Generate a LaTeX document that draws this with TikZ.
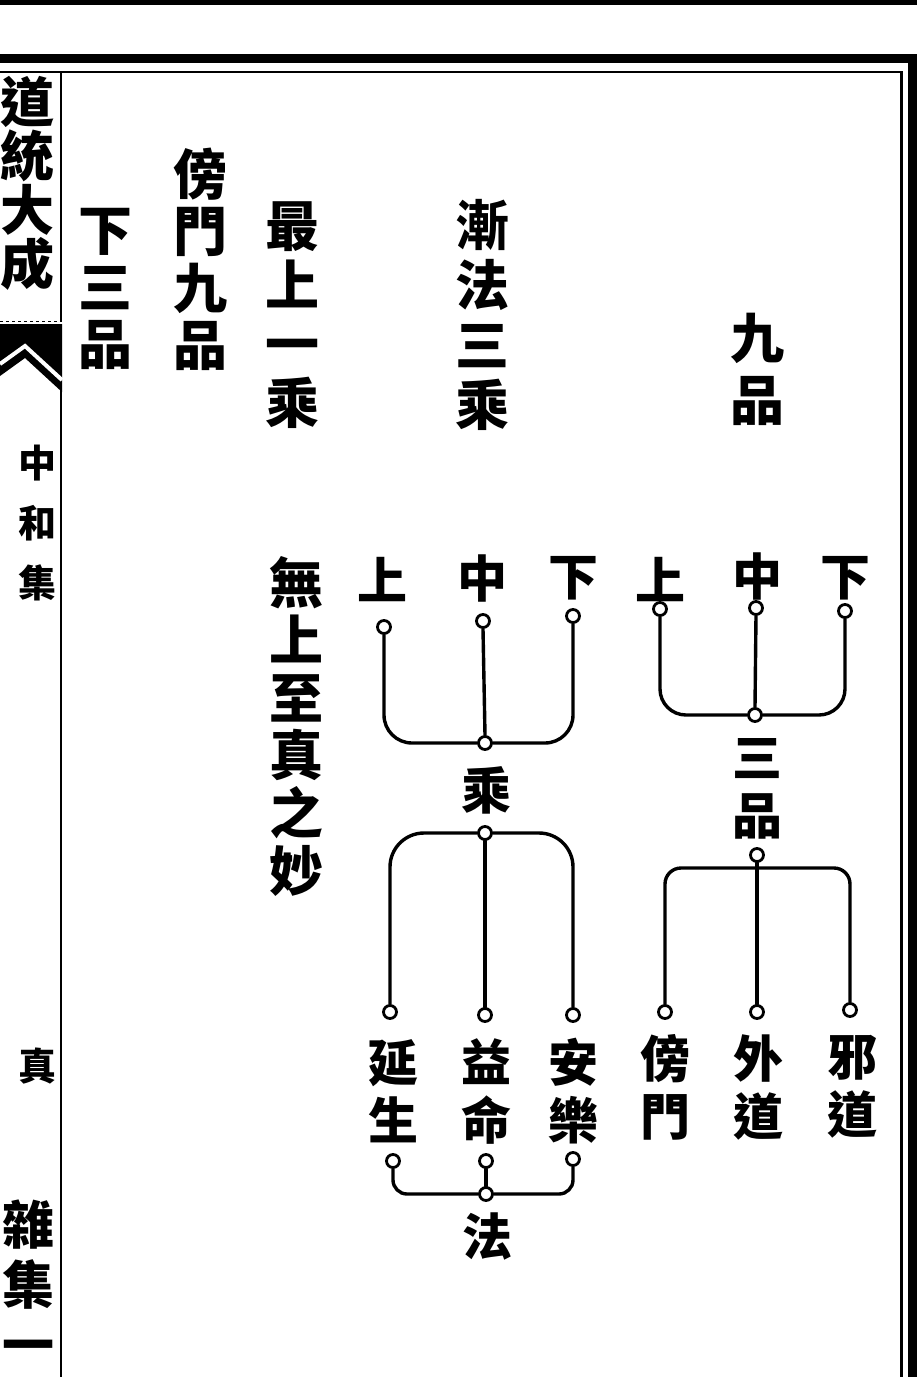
\documentclass[tikz,border=0pt]{standalone}
\usepackage{fontspec}
\newfontfamily\cjk{Noto Sans CJK TC}
\begin{document}
\begin{tikzpicture}[x=1pt,y=-1pt,
  col/.style={font=\cjk\bfseries\fontsize{54}{58}\selectfont, align=center, inner sep=0pt},
  small/.style={font=\cjk\bfseries\fontsize{38}{60}\selectfont, align=center, inner sep=0pt},
  lbl/.style={font=\cjk\bfseries\fontsize{50}{58}\selectfont, align=center, inner sep=0pt},
  dot/.style={circle, draw, line width=2.8pt, minimum size=13pt, inner sep=0pt, fill=white},
  wire/.style={line width=3.4pt, line cap=round},
  rule/.style={line width=2.5pt}]
\useasboundingbox (0,0) rectangle (917,1377);
\clip (0,0) rectangle (917,1377);
% ---------- page frame ----------
\fill (0,0) rectangle (917,5);
\fill (0,54) rectangle (917,63);
\draw[rule] (0,72) -- (903,72);
\draw[line width=3pt] (901,72) -- (901,1377);
\draw[line width=9pt] (912.5,54) -- (912.5,1377);
\draw[rule] (61,72) -- (61,322);
\draw[rule] (61,388) -- (61,1377);
\draw[line width=1pt, dashed] (0,321) -- (61,321);
% fishtail
\fill (0,324) -- (62,324) -- (62,392) -- (25,358) -- (0,376) -- cycle;
\draw[white, line width=4pt] (0,364) -- (25,346) -- (62,380);
% ---------- margin texts ----------
\node[col, font=\cjk\bfseries\fontsize{54}{54}\selectfont] (title) at (28,183) {道\\統\\大\\成};
\node[small] (zhonghe) at (38,523) {中\\和\\集};
\node[small] (zhen) at (38,1066) {真};
\node[col, font=\cjk\bfseries\fontsize{52}{60}\selectfont] (zaji) at (28,1282) {雜\\集\\一};
% ---------- text columns ----------
\node[col, font=\cjk\bfseries\fontsize{54}{57}\selectfont] (xiasan) at (105,289) {下\\三\\品};
\node[col, font=\cjk\bfseries\fontsize{54}{57}\selectfont] (pangmen) at (200,259) {傍\\門\\九\\品};
\node[col, font=\cjk\bfseries\fontsize{54}{59}\selectfont] (zuishang) at (292,315) {最\\上\\一\\乘};
\node[col, font=\cjk\bfseries\fontsize{54}{60}\selectfont] (jianfa) at (482,315) {漸\\法\\三\\乘};
\node[col, font=\cjk\bfseries\fontsize{54}{62}\selectfont] (jiupin) at (757,369) {九\\品};
\node[col, font=\cjk\bfseries\fontsize{54}{57.6}\selectfont] (wushang) at (296,726) {無\\上\\至\\真\\之\\妙};
% ---------- left tree ----------
\node[lbl] (ls) at (382,580) {上};
\node[lbl] (lz) at (482,578) {中};
\node[lbl] (lx) at (573,578) {下};
\node[dot] (aL) at (384,627) {};
\node[dot] (aM) at (483,621) {};
\node[dot] (aR) at (573,616) {};
\node[dot] (J1) at (485,743) {};
\node[lbl] (cheng) at (486,790) {乘};
\node[dot] (J2) at (485,833) {};
\node[dot] (bL) at (390,1012) {};
\node[dot] (bM) at (485,1015) {};
\node[dot] (bR) at (573,1015) {};
\node[lbl] (yansheng) at (393,1091) {延\\生};
\node[lbl] (yiming) at (486,1091) {益\\命};
\node[lbl] (anle) at (573,1091) {安\\樂};
\node[dot] (dL) at (393,1161) {};
\node[dot] (dM) at (486,1161) {};
\node[dot] (dR) at (573,1159) {};
\node[dot] (J3) at (486,1194) {};
\node[lbl] (fa) at (487,1236) {法};
\draw[wire, rounded corners=28] (aL.south) -- (aL.south |- J1) -- (J1.west);
\draw[wire] (aM.south) -- (J1.north);
\draw[wire, rounded corners=28] (aR.south) -- (aR.south |- J1) -- (J1.east);
\draw[wire, rounded corners=34] (J2.west) -- (J2.west -| bL) -- (bL.north);
\draw[wire] (J2.south) -- (bM.north);
\draw[wire, rounded corners=34] (J2.east) -- (J2.east -| bR) -- (bR.north);
\draw[wire, rounded corners=14] (dL.south) -- (dL.south |- J3) -- (J3.west);
\draw[wire] (dM.south) -- (J3.north);
\draw[wire, rounded corners=14] (dR.south) -- (dR.south |- J3) -- (J3.east);
% ---------- right tree ----------
\node[lbl] (rs) at (660,580) {上};
\node[lbl] (rz) at (757,576) {中};
\node[lbl] (rx) at (845,578) {下};
\node[dot] (eL) at (660,609) {};
\node[dot] (eM) at (756,608) {};
\node[dot] (eR) at (845,611) {};
\node[dot] (J4) at (755,715) {};
\node[lbl, font=\cjk\bfseries\fontsize{50}{58}\selectfont] (sanpin) at (757,789) {三\\品};
\node[dot] (J5) at (757,855) {};
\coordinate (h) at (757,868);
\node[dot] (fL) at (665,1012) {};
\node[dot] (fM) at (757,1012) {};
\node[dot] (fR) at (850,1010) {};
\node[lbl] (pm) at (665,1087) {傍\\門};
\node[lbl] (wd) at (758,1087) {外\\道};
\node[lbl] (xd) at (852,1087) {邪\\道};
\draw[wire, rounded corners=26] (eL.south) -- (eL.south |- J4) -- (J4.west);
\draw[wire] (eM.south) -- (J4.north);
\draw[wire, rounded corners=26] (eR.south) -- (eR.south |- J4) -- (J4.east);
\draw[wire] (J5.south) -- (fM.north);
\draw[wire, rounded corners=16] (fL.north) -- (fL.north |- h) -- (h) -- (h -| fR) -- (fR.north);
\end{tikzpicture}
\end{document}
